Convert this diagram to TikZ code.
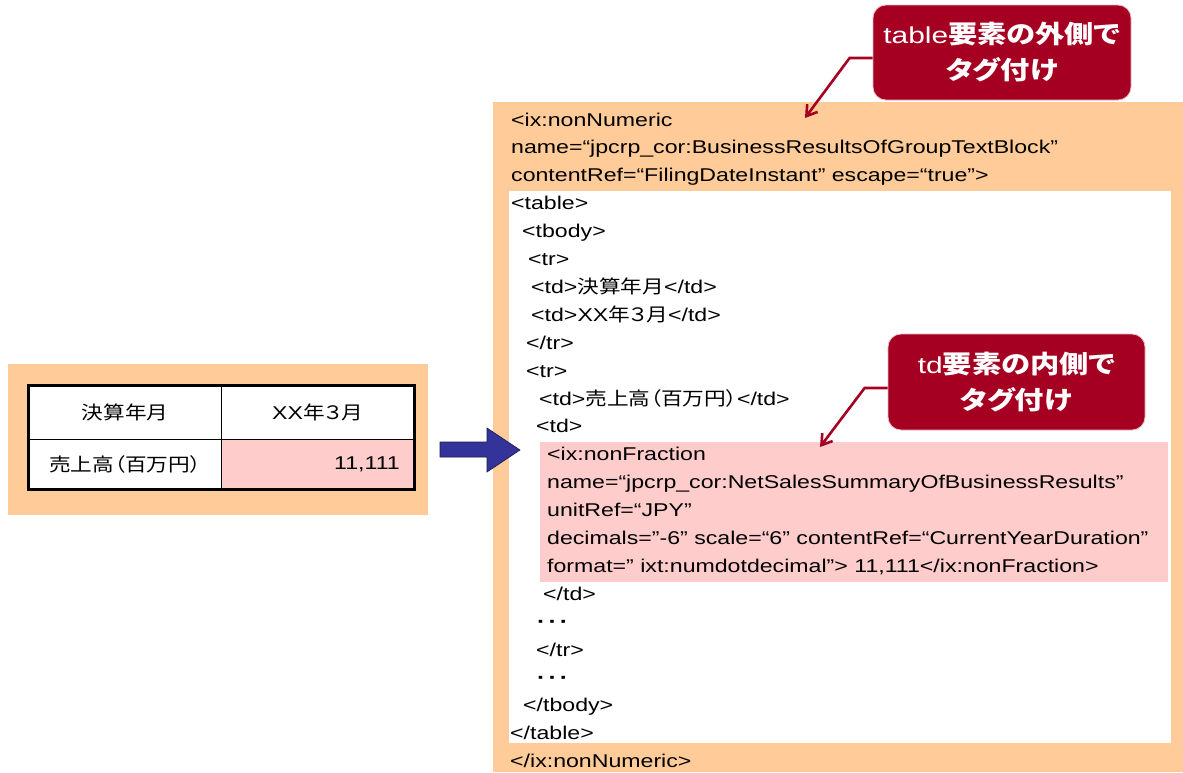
\documentclass[tikz,border=0pt]{standalone}
\usepackage{fontspec}
\setmainfont{Liberation Sans}[FakeStretch=1.25]
\newfontfamily\jp{Noto Sans CJK JP}[FakeStretch=1.17,RawFeature=+palt]
\newfontfamily\lat{Liberation Sans}[FakeStretch=1.3]
\usetikzlibrary{arrows.meta}
\definecolor{panel}{HTML}{FFCC99}
\definecolor{pinkcell}{HTML}{FFCCCC}
\definecolor{calloutred}{HTML}{A50021}
\definecolor{calloutedge}{HTML}{E8B8C0}
\definecolor{arrowblue}{HTML}{333399}
\definecolor{arrowedge}{HTML}{1A1A4D}
\begin{document}
\begin{tikzpicture}[x=1pt,y=-1pt,
  code/.style={anchor=base west,inner sep=0pt,font=\fontsize{18.5}{22}\selectfont},
  cell/.style={draw=black,line width=1pt,inner sep=0pt,font=\fontsize{18.5}{22}\selectfont},
  callout/.style={fill=calloutred,draw=calloutedge,line width=0.8pt,rounded corners=13pt,
    inner sep=0pt,text=white,align=center,font=\fontsize{25}{36}\selectfont},
  ptr/.style={draw=calloutred,line width=2.6pt,-{Straight Barb[length=10pt,width=13pt,line width=2.6pt]}},
  dots/.style={code,font=\fontsize{20}{22}\selectfont\bfseries}]
\useasboundingbox (0,0) rectangle (1183,772);

% left panel with table
\fill[panel] (8,364) rectangle (428,515);
\node[cell,fill=white,minimum width=192pt,minimum height=53pt] (c11) at (125,412.5) {\jp 決算年月};
\node[cell,fill=white,minimum width=193pt,minimum height=53pt] (c12) at (317.5,412.5) {XX{\jp 年３月}};
\node[cell,fill=white,minimum width=192pt,minimum height=50pt] (c21) at (125,464) {\jp 売上高（百万円）};
\node[cell,fill=pinkcell,minimum width=193pt,minimum height=50pt] (c22) at (317.5,464) {};
\node[anchor=east,inner sep=0pt,font=\fontsize{18.5}{22}\selectfont] (val) at (400,464) {11,111};
\draw[line width=3pt] (c11.north west) rectangle (c22.south east);

% right panel
\fill[panel] (493,102) rectangle (1183,772);
\fill[white] (509,191) rectangle (1171,743);
\fill[pinkcell] (540,442) rectangle (1168,582);

% block arrow
\draw[fill=arrowblue,draw=arrowedge,line width=0.6pt]
  (440,442) -- (487,442) -- (487,428) -- (520,450) -- (487,472) -- (487,457) -- (440,457) -- cycle;

% code lines
\node[code] (l1)  at (511,126.0) {<ix:nonNumeric};
\node[code] (l2)  at (511,153.9) {name=“jpcrp\_cor:BusinessResultsOfGroupTextBlock”};
\node[code] (l3)  at (511,181.8) {contentRef=“FilingDateInstant” escape=“true”>};
\node[code] (l4)  at (511,209.7) {<table>};
\node[code] (l5)  at (522,237.6) {<tbody>};
\node[code] (l6)  at (528,265.5) {<tr>};
\node[code] (l7)  at (531,293.4) {<td>{\jp 決算年月}</td>};
\node[code] (l8)  at (531,321.3) {<td>XX{\jp 年３月}</td>};
\node[code] (l9)  at (526,349.2) {</tr>};
\node[code] (l10) at (526,377.1) {<tr>};
\node[code] (l11) at (539,405.0) {<td>{\jp 売上高（百万円）}</td>};
\node[code] (l12) at (536,432.9) {<td>};
\node[code] (l13) at (547,460.8) {<ix:nonFraction};
\node[code] (l14) at (547,488.7) {name=“jpcrp\_cor:NetSalesSummaryOfBusinessResults”};
\node[code] (l15) at (547,516.6) {unitRef=“JPY”};
\node[code] (l16) at (547,544.5) {decimals=”-6” scale=“6” contentRef=“CurrentYearDuration”};
\node[code] (l17) at (547,572.4) {format=” ixt:numdotdecimal”> 11,111</ix:nonFraction>};
\node[code] (l18) at (543,600.3) {</td>};
\node[dots] (l19) at (537,628.2) {·\hspace{3pt}·\hspace{3pt}·};
\node[code] (l20) at (536,656.1) {</tr>};
\node[dots] (l21) at (537,684.0) {·\hspace{3pt}·\hspace{3pt}·};
\node[code] (l22) at (523,711.9) {</tbody>};
\node[code] (l23) at (510,739.8) {</table>};
\node[code] (l24) at (510,767.7) {</ix:nonNumeric>};

% callouts
\node[callout,minimum width=258pt,minimum height=95pt] (co1) at (1002,52.5)
  {\raisebox{0pt}{\lat\fontsize{23}{36}\selectfont table}{\jp\bfseries 要素の外側で}\\
   {\jp\bfseries タグ付け}};
\coordinate (t1) at (805,118);
\draw[ptr] ([yshift=-5.5pt]co1.west) -- ++(-23,0) -- (t1);

\node[callout,minimum width=257pt,minimum height=96pt] (co2) at (1016.5,382)
  {{\lat\fontsize{23}{36}\selectfont td}{\jp\bfseries 要素の内側で}\\
   {\jp\bfseries タグ付け}};
\coordinate (t2) at (820,447);
\draw[ptr] ([yshift=-6pt]co2.west) -- ++(-23,0) -- (t2);
\end{tikzpicture}
\end{document}
